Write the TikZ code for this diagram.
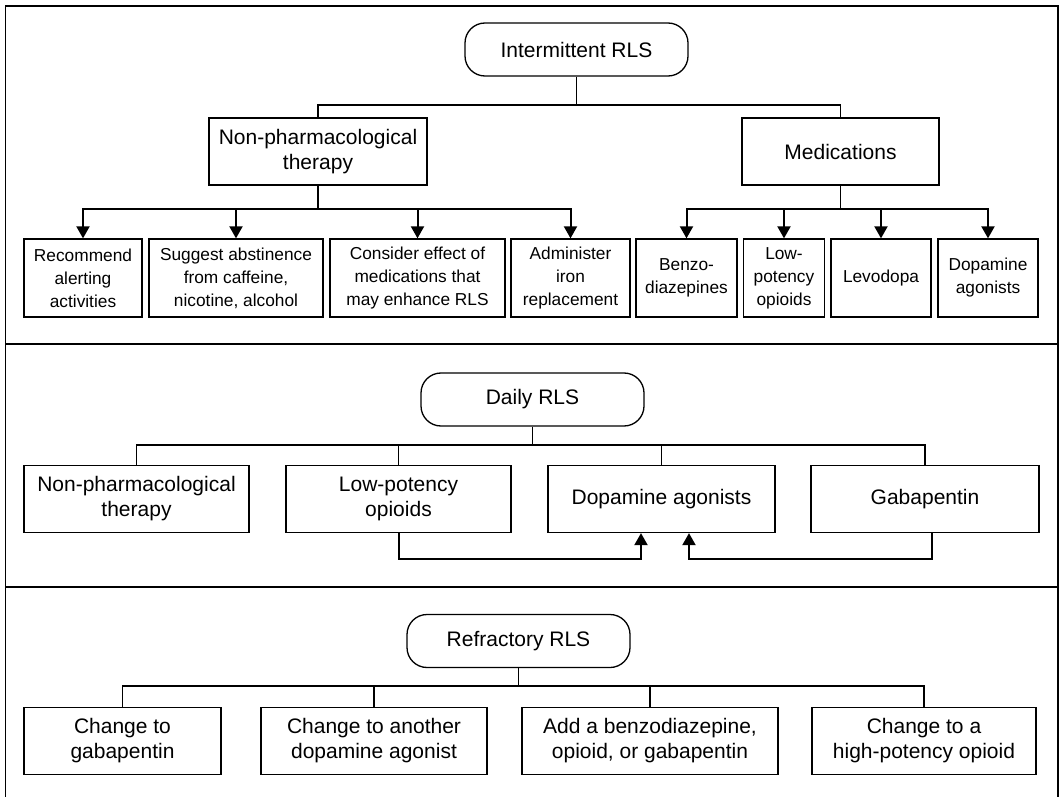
\documentclass[tikz,border=0pt]{standalone}
\usepackage{fontspec}
\setmainfont{Liberation Sans}
\usetikzlibrary{
    arrows.meta,
    positioning,
    calc
}
\tikzset{
    rterm/.style={
        rectangle, rounded corners=20pt, draw, line width=1.3pt,
        minimum width=223pt, minimum height=53pt,
        align=center, font=\fontsize{21}{25}\selectfont, inner sep=2pt
    },
    rhead/.style={
        rectangle, draw, line width=1.3pt, minimum height=67pt,
        align=center, font=\fontsize{21}{25}\selectfont, inner sep=2pt
    },
    rleaf/.style={
        rectangle, draw, line width=1.3pt, minimum height=78pt,
        align=center, font=\fontsize{17.3}{23}\selectfont, inner sep=1pt
    },
    rtree/.style={line width=1.5pt},
    rarr/.style={-{Triangle[length=12pt, width=13pt]}, line width=2pt},
    rframe/.style={line width=1.3pt},
}

\begin{document}
\begin{tikzpicture}[x=1pt, y=-1pt]
    \useasboundingbox (0,0) rectangle (1061,797);

    % ── frame and separators ─────────────────────────────
    \draw [rframe] (5.5,797) -- (5.5,6) -- (1058,6) -- (1058,797);
    \draw [rframe] (5.5,344) -- (1058,344);
    \draw [rframe] (5.5,587) -- (1058,587);

    % ── intermittent RLS ─────────────────────────────────
    \node [rterm] (inter) at (576.5,49.5) {Intermittent RLS};
    \node [rhead, minimum width=218pt] (nonph) at (318,151.5) {Non-pharmacological\\therapy};
    \node [rhead, minimum width=197pt] (medic) at (840.5,151.5) {Medications};

    \node [rleaf, minimum width=118pt] (alert) at (83,278) {Recommend\\alerting\\activities};
    \node [rleaf, minimum width=174pt] (abst) at (236,278) {Suggest abstinence\\from caffeine,\\nicotine, alcohol};
    \node [rleaf, minimum width=175pt] (effect) at (417.5,278) {Consider effect of\\medications that\\may enhance RLS};
    \node [rleaf, minimum width=119pt] (iron) at (570.5,278) {Administer\\iron\\replacement};
    \node [rleaf, minimum width=101pt] (benzo) at (686.5,278) {Benzo-\\diazepines};
    \node [rleaf, minimum width=80.5pt] (lowop) at (784,278) {Low-\\potency\\opioids};
    \node [rleaf, minimum width=100pt] (levo) at (881,278) {Levodopa};
    \node [rleaf, minimum width=100pt] (dopag) at (988,278) {Dopamine\\agonists};

    \coordinate (busA) at (576.5,105);
    \coordinate (busB) at (318,209);
    \coordinate (busC) at (840.5,209);

    \draw [rtree] (inter) -- (busA);
    \draw [rtree] (nonph.north) |- (busA) -| (medic.north);
    \draw [rtree] (nonph) -- (busB);
    \draw [rtree] (medic) -- (busC);
    \foreach \leaf in {alert, abst, effect, iron}
        \draw [rarr] (busB) -| (\leaf);
    \foreach \leaf in {benzo, lowop, levo, dopag}
        \draw [rarr] (busC) -| (\leaf);

    % ── daily RLS ────────────────────────────────────────
    \node [rterm] (daily) at (532.5,399.5) {Daily RLS};
    \node [rhead, minimum width=225pt] (dnonph) at (136.5,499) {Non-pharmacological\\therapy};
    \node [rhead, minimum width=225pt] (dlowop) at (398.5,499) {Low-potency\\opioids};
    \node [rhead, minimum width=227pt] (ddopag) at (661.5,499) {Dopamine agonists};
    \node [rhead, minimum width=228pt] (dgaba) at (925,499) {Gabapentin};

    \coordinate (busD) at (532.5,445);
    \draw [rtree] (daily) -- (busD);
    \foreach \kid in {dnonph, dlowop, ddopag, dgaba}
        \draw [rtree] (busD) -| (\kid);

    \draw [rarr] (dlowop.south) -- ++(0,26) -| ([xshift=-20.5pt]ddopag.south);
    \draw [rarr] ([xshift=7pt]dgaba.south) -- ++(0,26) -| ([xshift=27.5pt]ddopag.south);

    % ── refractory RLS ───────────────────────────────────
    \node [rterm] (refr) at (518.5,641) {Refractory RLS};
    \node [rhead, minimum width=197pt] (rgaba) at (122.5,741) {Change to\\gabapentin};
    \node [rhead, minimum width=226pt] (rdopag) at (374,741) {Change to another\\dopamine agonist};
    \node [rhead, minimum width=256pt] (radd) at (650,741) {Add a benzodiazepine,\\opioid, or gabapentin};
    \node [rhead, minimum width=224pt] (rhigh) at (924,741) {Change to a\\high-potency opioid};

    \coordinate (busE) at (518.5,686);
    \draw [rtree] (refr) -- (busE);
    \foreach \kid in {rgaba, rdopag, radd, rhigh}
        \draw [rtree] (busE) -| (\kid);

\end{tikzpicture}
\end{document}
